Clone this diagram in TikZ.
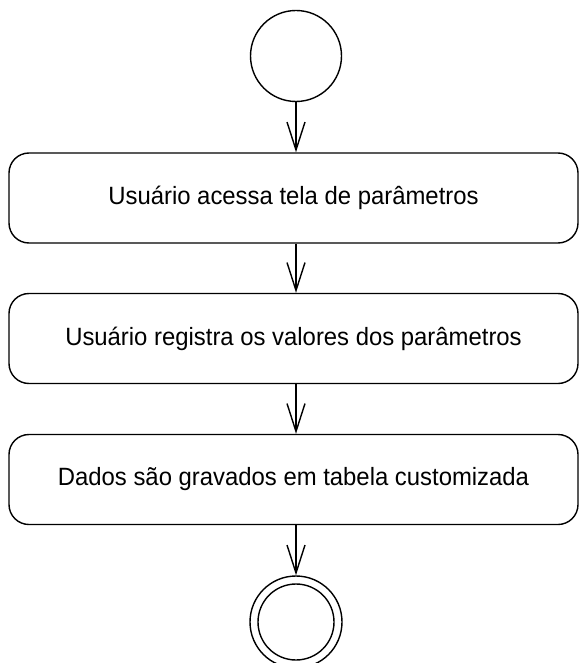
\documentclass[tikz,border=0pt]{standalone}
\usepackage{fontspec}
\setmainfont{Liberation Sans}[FakeStretch=0.955]
\usetikzlibrary{arrows.meta}
\begin{document}
\begin{tikzpicture}[x=1pt,y=1pt,
  line width=1.4pt,
  actbox/.style={draw, rounded corners=20pt, minimum width=569pt, minimum height=90pt, inner sep=0pt, font=\fontsize{25}{30}\selectfont},
  flow/.style={-{Straight Barb[length=28pt,width=18pt,line width=1.4pt]}}
]
\useasboundingbox (0,0) rectangle (579,-663);
\node[draw, circle, minimum size=91pt, inner sep=0pt] (start) at (296,-56) {};
\node[actbox] (a1) at (293.5,-198) {Usuário acessa tela de parâmetros};
\node[actbox] (a2) at (293.5,-338.5) {Usuário registra os valores dos parâmetros};
\node[actbox] (a3) at (293.5,-479.5) {Dados são gravados em tabela customizada};
\node[draw, circle, minimum size=92pt, inner sep=0pt] (end) at (296,-622) {};
\node[draw, circle, minimum size=76pt, inner sep=0pt] (endin) at (296,-622) {};
\draw[flow] (start.south) -- (start.south |- a1.north);
\draw[flow] (start.south |- a1.south) -- (start.south |- a2.north);
\draw[flow] (start.south |- a2.south) -- (start.south |- a3.north);
\draw[flow] (start.south |- a3.south) -- (end.north);
\end{tikzpicture}
\end{document}
